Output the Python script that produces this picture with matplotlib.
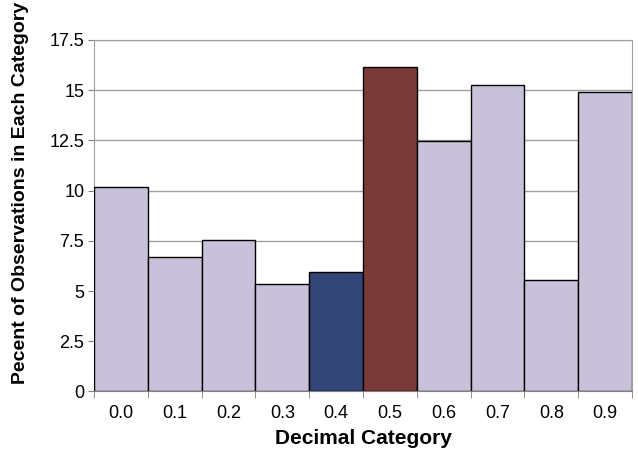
import matplotlib.pyplot as plt
import numpy as np

plt.rcParams["font.family"] = ["Liberation Sans", "DejaVu Sans"]

categories = ["0.0", "0.1", "0.2", "0.3", "0.4", "0.5", "0.6", "0.7", "0.8", "0.9"]
percents = [10.16, 6.71, 7.54, 5.33, 5.93, 16.16, 12.46, 15.25, 5.53, 14.92]
y_ticks = [0, 2.5, 5, 7.5, 10, 12.5, 15, 17.5]
y_tick_labels = ["0", "2.5", "5", "7.5", "10", "12.5", "15", "17.5"]

lavender = "#c9c1d9"
colors = [lavender] * len(categories)
colors[4] = "#334577"  # 0.4 highlighted
colors[5] = "#7a3a38"  # 0.5 highlighted


def main() -> int:
    fig = plt.figure(figsize=(6.38, 4.53), dpi=100)
    ax = fig.add_axes([0.1473, 0.1358, 0.8433, 0.7759])

    x = np.arange(len(categories))
    ax.bar(x, percents, width=1.0, color=colors, edgecolor="black",
           linewidth=1.0, zorder=3)

    # Axes and grid
    ax.set_xlim(-0.5, len(categories) - 0.5)
    ax.set_ylim(0, 17.5)
    ax.set_yticks(y_ticks)
    ax.set_yticklabels(y_tick_labels)
    ax.yaxis.grid(True, color="#a0a0a0", linewidth=1.0, zorder=0)
    ax.set_axisbelow(True)
    for side in ["top", "right", "left", "bottom"]:
        ax.spines[side].set_color("#a0a0a0")
    ax.spines["bottom"].set_color("#808080")

    # category labels centred, ticks between bars
    ax.set_xticks(x)
    ax.set_xticklabels(categories)
    ax.set_xticks(np.arange(-0.5, len(categories)), minor=True)
    ax.tick_params(axis="x", which="major", length=0, pad=10, labelsize=13)
    ax.tick_params(axis="x", which="minor", length=5, color="#808080")
    ax.tick_params(axis="y", length=4, color="#808080", labelsize=13, pad=3)

    ax.set_xlabel("Decimal Category", fontsize=15, fontweight="bold", labelpad=5)
    ax.set_ylabel("Pecent of Observations in Each Category", fontsize=14,
                  fontweight="bold")
    ax.yaxis.set_label_coords(-0.12, 0.565)

    fig.savefig("out.png", dpi=100)
    return 0


if __name__ == "__main__":
    main()
